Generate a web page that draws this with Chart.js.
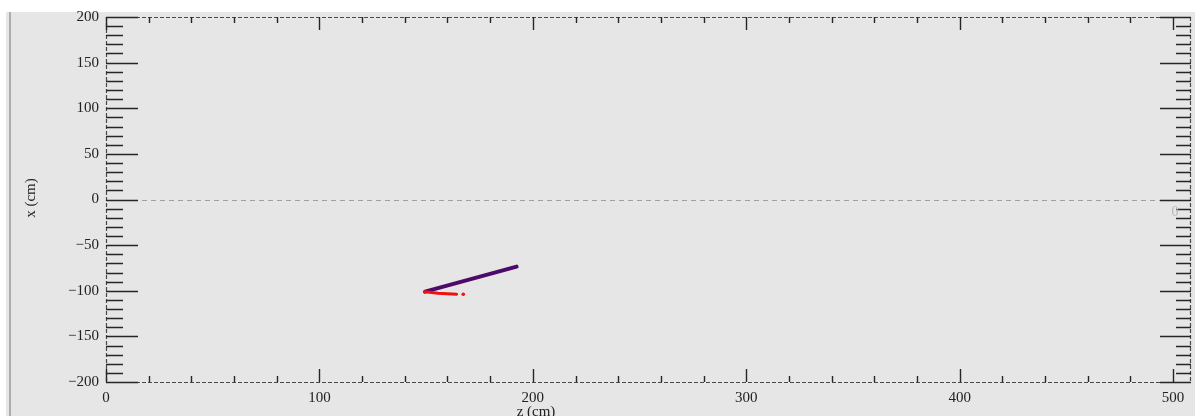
<!DOCTYPE html>
<html>
<head>
<meta charset="utf-8">
<script src="https://cdn.jsdelivr.net/npm/chart.js@4/dist/chart.umd.min.js"></script>
<style>
  html, body { margin: 0; padding: 0; background: #ffffff; }
  #wrap { width: 1195px; height: 416px; position: relative; }
</style>
</head>
<body>
<div id="wrap"><canvas id="c" width="1195" height="416"></canvas></div>
<script>
// ---- data ----
const zRange = [0, 508.4];
const xRange = [-200, 200];
const zMajorTicks = [0, 100, 200, 300, 400, 500];
const zMinorStep = 20;
const xMajorTicks = [-200, -150, -100, -50, 0, 50, 100, 150, 200];
const xMinorStep = 10;

const purpleTrackZ = [149.5, 192.4];
const purpleTrackX = [-101.0, -73.6];
const redTrackZ = [149.5, 155.5, 164.3];
const redTrackX = [-101.0, -102.7, -103.8];
const redDotZ = [167.4];
const redDotX = [-103.8];

const zTitle = 'z (cm)';
const xTitle = 'x (cm)';

const toPts = (zs, xs) => zs.map((z, i) => ({ x: z, y: xs[i] }));
const fontFamily = '"Liberation Serif", "DejaVu Serif", serif';

const framePlugin = {
  id: 'frame',
  beforeDraw(chart) {
    const ctx = chart.ctx;
    ctx.save();
    ctx.fillStyle = '#ffffff';
    ctx.fillRect(0, 0, chart.width, chart.height);
    ctx.fillStyle = '#e6e6e6';
    ctx.fillRect(6, 12, chart.width - 6, chart.height - 12);
    ctx.strokeStyle = '#adadad';
    ctx.lineWidth = 2;
    ctx.beginPath();
    ctx.moveTo(10, 12);
    ctx.lineTo(10, chart.height);
    ctx.stroke();
    ctx.restore();
  },
  beforeDatasetsDraw(chart) {
    const ctx = chart.ctx;
    const a = chart.chartArea;
    const xs = chart.scales.x, ys = chart.scales.y;
    ctx.save();
    // zero line
    ctx.strokeStyle = '#a0a0a0';
    ctx.lineWidth = 1.2;
    ctx.setLineDash([5, 4]);
    const y0 = Math.round(ys.getPixelForValue(0)) + 0.5;
    ctx.beginPath();
    ctx.moveTo(a.left, y0);
    ctx.lineTo(a.right, y0);
    ctx.stroke();
    // dashed frame
    ctx.strokeStyle = '#4a4a4a';
    ctx.setLineDash([4, 2]);
    ctx.beginPath();
    ctx.moveTo(a.left, a.top + 0.5); ctx.lineTo(a.right, a.top + 0.5);
    ctx.moveTo(a.left, a.bottom + 0.5); ctx.lineTo(a.right, a.bottom + 0.5);
    ctx.moveTo(a.left + 0.5, a.top); ctx.lineTo(a.left + 0.5, a.bottom);
    ctx.moveTo(a.right - 0.5, a.top); ctx.lineTo(a.right - 0.5, a.bottom);
    ctx.stroke();
    ctx.setLineDash([]);
    // ticks
    ctx.strokeStyle = '#262626';
    ctx.lineWidth = 1.4;
    ctx.beginPath();
    xs.ticks.forEach(t => {
      const major = zMajorTicks.includes(t.value);
      const px = Math.round(xs.getPixelForValue(t.value)) + 0.5;
      const len = major ? 13 : 6;
      ctx.moveTo(px, a.top); ctx.lineTo(px, a.top + len);
      ctx.moveTo(px, a.bottom); ctx.lineTo(px, a.bottom - len);
    });
    ys.ticks.forEach(t => {
      const major = xMajorTicks.includes(t.value);
      const py = Math.round(ys.getPixelForValue(t.value)) + 0.5;
      ctx.moveTo(a.left, py); ctx.lineTo(a.left + (major ? 32 : 17), py);
      ctx.moveTo(a.right, py); ctx.lineTo(a.right - (major ? 31 : 15), py);
    });
    ctx.stroke();
    // axis titles
    ctx.fillStyle = '#222222';
    ctx.font = '15px ' + fontFamily;
    ctx.textAlign = 'center';
    ctx.textBaseline = 'middle';
    ctx.fillText(zTitle, 536, 412);
    ctx.save();
    ctx.translate(31, 198);
    ctx.rotate(-Math.PI / 2);
    ctx.fillText(xTitle, 0, 0);
    ctx.restore();
    // faint mark at right edge
    ctx.fillStyle = '#b8b8b8';
    ctx.font = '14px ' + fontFamily;
    ctx.fillText('0', 1175, 212);
    ctx.restore();
  }
};

new Chart(document.getElementById('c'), {
  type: 'scatter',
  data: {
    datasets: [
      {
        data: toPts(redTrackZ, redTrackX),
        showLine: true,
        borderColor: '#f01010',
        backgroundColor: '#f01010',
        borderWidth: 3,
        pointRadius: 0,
        borderCapStyle: 'round'
      },
      {
        data: toPts(redDotZ, redDotX),
        showLine: false,
        backgroundColor: '#f01010',
        borderWidth: 0,
        pointRadius: 1.8
      },
      {
        data: toPts(purpleTrackZ, purpleTrackX),
        showLine: true,
        borderColor: '#4e0a6a',
        backgroundColor: '#4e0a6a',
        borderWidth: 4,
        pointRadius: 0,
        borderCapStyle: 'round'
      }
    ]
  },
  options: {
    responsive: false,
    animation: false,
    events: [],
    layout: { padding: { left: 0, top: 17, right: 4, bottom: 0 } },
    plugins: { legend: { display: false }, tooltip: { enabled: false }, title: { display: false } },
    scales: {
      x: {
        type: 'linear',
        position: 'bottom',
        min: zRange[0], max: zRange[1],
        afterFit(s) { s.height = 34; },
        grid: { display: false, drawTicks: false },
        border: { display: false },
        ticks: {
          stepSize: zMinorStep,
          includeBounds: false,
          autoSkip: false,
          maxRotation: 0,
          padding: 7,
          color: '#222222',
          font: { family: fontFamily, size: 15 },
          callback: v => zMajorTicks.includes(v) ? String(v) : ''
        }
      },
      y: {
        type: 'linear',
        position: 'left',
        min: xRange[0], max: xRange[1],
        afterFit(s) { s.width = 106; },
        grid: { display: false, drawTicks: false },
        border: { display: false },
        ticks: {
          stepSize: xMinorStep,
          autoSkip: false,
          padding: 7,
          color: '#222222',
          font: { family: fontFamily, size: 15 },
          callback: v => xMajorTicks.includes(v) ? String(v).replace('-', '\u2212') : ''
        }
      }
    }
  },
  plugins: [framePlugin]
});
</script>
</body>
</html>
